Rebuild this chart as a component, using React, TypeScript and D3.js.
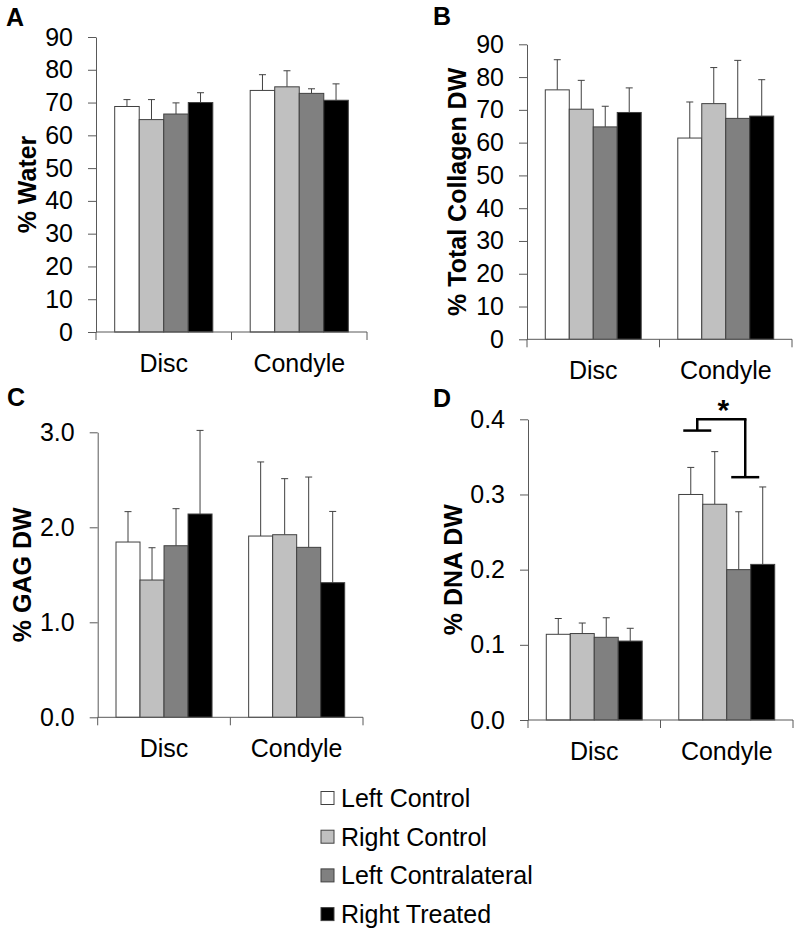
import React, { useEffect, useRef } from "react";
import * as d3 from "d3";

// categories and series
const groups = ["Disc", "Condyle"];
const treatments = ["Left Control", "Right Control", "Left Contralateral", "Right Treated"];
const fills = ["#ffffff", "#c0c0c0", "#808080", "#000000"];

// A: % water
const waterMean = [
  [68.8, 64.8, 66.5, 70.0],
  [73.7, 74.8, 72.8, 70.7],
];
const waterErr = [
  [2.1, 6.1, 3.4, 3.0],
  [4.8, 4.9, 1.4, 5.0],
];
const waterTicks = [0, 10, 20, 30, 40, 50, 60, 70, 80, 90];

// B: % total collagen DW
const collagenMean = [
  [76.1, 70.2, 64.8, 69.2],
  [61.4, 71.9, 67.4, 68.1],
];
const collagenErr = [
  [9.2, 8.8, 6.3, 7.5],
  [11.0, 11.0, 17.7, 11.1],
];
const collagenTicks = [0, 10, 20, 30, 40, 50, 60, 70, 80, 90];

// C: % GAG DW
const gagMean = [
  [1.845, 1.445, 1.806, 2.14],
  [1.908, 1.922, 1.789, 1.417],
];
const gagErr = [
  [0.32, 0.34, 0.39, 0.88],
  [0.78, 0.59, 0.74, 0.75],
];
const gagTicks = [0, 1, 2, 3];

// D: % DNA DW
const dnaMean = [
  [0.114, 0.115, 0.11, 0.105],
  [0.3, 0.287, 0.2, 0.207],
];
const dnaErr = [
  [0.021, 0.014, 0.026, 0.017],
  [0.036, 0.07, 0.077, 0.103],
];
const dnaTicks = [0, 0.1, 0.2, 0.3, 0.4];
// significance bracket levels (in DNA units)
const sigTop = 0.4;
const sigLeftArm = 0.385;
const sigRightArm = 0.323;

const FONT = "'Liberation Sans', Arial, sans-serif";
const AXIS = "#595959";

type PanelProps = {
  letter: string;
  letterX: number;
  letterY: number;
  title: string;
  titleX: number;
  left: number;
  right: number;
  top: number;
  bottom: number;
  mean: number[][];
  err: number[][];
  ticks: number[];
  fmt: (d: number) => string;
  sig?: boolean;
};

function Panel(p: PanelProps) {
  const yAxisRef = useRef<SVGGElement>(null);
  const xAxisRef = useRef<SVGGElement>(null);

  const y = d3
    .scaleLinear()
    .domain([0, p.ticks[p.ticks.length - 1]])
    .range([p.bottom, p.top]);
  const x0 = d3.scaleBand().domain(groups).range([p.left, p.right]).padding(0);
  const pad = x0.bandwidth() * 0.138;
  const x1 = d3
    .scaleBand()
    .domain(treatments)
    .range([pad, x0.bandwidth() - pad])
    .padding(0);

  useEffect(() => {
    const ya = d3
      .axisLeft(y)
      .tickValues(p.ticks)
      .tickFormat((d) => p.fmt(d as number))
      .tickSize(8)
      .tickSizeOuter(0)
      .tickPadding(15);
    const g = d3.select(yAxisRef.current!);
    g.call(ya);
    g.selectAll("path, line").attr("stroke", AXIS);
    g.selectAll("text")
      .attr("font-family", FONT)
      .attr("font-size", 25)
      .attr("fill", "#000");

    const xg = d3.select(xAxisRef.current!);
    xg.selectAll("*").remove();
    xg.append("line")
      .attr("x1", p.left)
      .attr("x2", p.right)
      .attr("y1", p.bottom)
      .attr("y2", p.bottom)
      .attr("stroke", AXIS);
    const edges = [p.left, ...groups.map((gname) => (x0(gname) as number) + x0.bandwidth())];
    xg.selectAll("line.tk")
      .data(edges)
      .enter()
      .append("line")
      .attr("class", "tk")
      .attr("x1", (d) => d)
      .attr("x2", (d) => d)
      .attr("y1", p.bottom)
      .attr("y2", p.bottom + 8)
      .attr("stroke", AXIS);
    xg.selectAll("text")
      .data(groups)
      .enter()
      .append("text")
      .attr("x", (d) => (x0(d) as number) + x0.bandwidth() / 2)
      .attr("y", p.bottom + 40)
      .attr("text-anchor", "middle")
      .attr("font-family", FONT)
      .attr("font-size", 25)
      .text((d) => d);
  }, []);

  const cx = (gi: number, ti: number) =>
    (x0(groups[gi]) as number) + (x1(treatments[ti]) as number);

  // bracket positions for significance
  const bLeft = cx(1, 1) - 5.5;
  const bRight = cx(1, 3) - 5.5;

  return (
    <g>
      <text x={p.letterX} y={p.letterY} fontFamily={FONT} fontWeight="bold" fontSize={25}>
        {p.letter}
      </text>
      <text
        transform={`translate(${p.titleX},${(p.top + p.bottom) / 2}) rotate(-90)`}
        textAnchor="middle"
        fontFamily={FONT}
        fontWeight="bold"
        fontSize={25}
      >
        {p.title}
      </text>
      {groups.map((gname, gi) =>
        treatments.map((t, ti) => {
          const v = p.mean[gi][ti];
          const e = p.err[gi][ti];
          const bx = cx(gi, ti);
          const bw = x1.bandwidth();
          const mid = bx + bw / 2;
          return (
            <g key={gname + t}>
              <line x1={mid} x2={mid} y1={y(v)} y2={y(v + e)} stroke="#404040" strokeWidth={1} />
              <line x1={mid - 3.5} x2={mid + 3.5} y1={y(v + e)} y2={y(v + e)} stroke="#404040" strokeWidth={1} />
              <rect
                x={bx}
                y={y(v)}
                width={bw}
                height={p.bottom - y(v)}
                fill={fills[ti]}
                stroke="#404040"
                strokeWidth={1}
              />
            </g>
          );
        })
      )}
      <g ref={yAxisRef} transform={`translate(${p.left},0)`} />
      <g ref={xAxisRef} />
      {p.sig && (
        <g stroke="#000" strokeWidth={2.5} fill="none">
          <line x1={bLeft - 14} x2={bLeft + 14} y1={y(sigLeftArm)} y2={y(sigLeftArm)} />
          <line x1={bLeft} x2={bLeft} y1={y(sigLeftArm)} y2={y(sigTop)} />
          <line x1={bLeft - 1.25} x2={bRight + 1.25} y1={y(sigTop)} y2={y(sigTop)} />
          <line x1={bRight} x2={bRight} y1={y(sigTop)} y2={y(sigRightArm)} />
          <line x1={bRight - 14} x2={bRight + 14} y1={y(sigRightArm)} y2={y(sigRightArm)} />
        </g>
      )}
      {p.sig && (
        <text
          x={(bLeft + bRight) / 2 + 2}
          y={y(sigTop) + 1}
          textAnchor="middle"
          fontFamily={FONT}
          fontWeight="bold"
          fontSize={30}
        >
          *
        </text>
      )}
    </g>
  );
}

export default function App() {
  const f0 = (d: number) => d3.format("d")(d);
  const f1 = (d: number) => d3.format(".1f")(d);
  return (
    <svg
      width={800}
      height={935}
      style={{ position: "absolute", left: 0, top: 0, background: "#fff" }}
    >
      <rect width={800} height={935} fill="#fff" />
      <Panel
        letter="A"
        letterX={6}
        letterY={26}
        title="% Water"
        titleX={36}
        left={96}
        right={367}
        top={37}
        bottom={332}
        mean={waterMean}
        err={waterErr}
        ticks={waterTicks}
        fmt={f0}
      />
      <Panel
        letter="B"
        letterX={433}
        letterY={25}
        title="% Total Collagen DW"
        titleX={466}
        left={527}
        right={792}
        top={44.3}
        bottom={339.3}
        mean={collagenMean}
        err={collagenErr}
        ticks={collagenTicks}
        fmt={f0}
      />
      <Panel
        letter="C"
        letterX={7}
        letterY={406}
        title="% GAG DW"
        titleX={31}
        left={97.7}
        right={363}
        top={432.3}
        bottom={717.3}
        mean={gagMean}
        err={gagErr}
        ticks={gagTicks}
        fmt={f1}
      />
      <Panel
        letter="D"
        letterX={433}
        letterY={407}
        title="% DNA DW"
        titleX={461.5}
        left={528}
        right={793}
        top={419.3}
        bottom={720}
        mean={dnaMean}
        err={dnaErr}
        ticks={dnaTicks}
        fmt={f1}
        sig
      />
      <g>
        {treatments.map((t, i) => (
          <g key={t} transform={`translate(321,${798 + i * 38.7})`}>
            <rect x={0} y={-6.5} width={13} height={13} fill={fills[i]} stroke="#404040" />
            <text x={20} y={9} fontFamily={FONT} fontSize={25}>
              {t}
            </text>
          </g>
        ))}
      </g>
    </svg>
  );
}
